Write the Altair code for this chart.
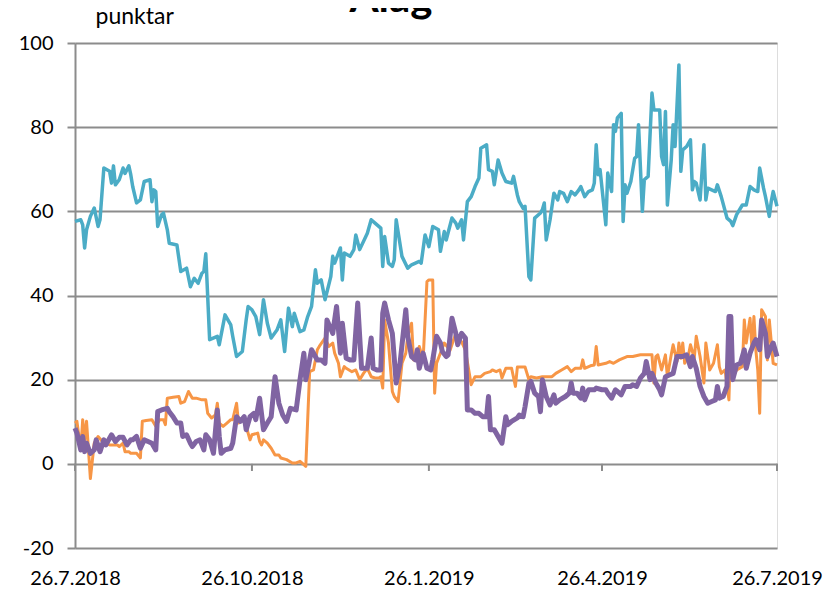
import altair as alt
import pandas as pd

# (days since 26.7.2018, value)
teal = [(0,57.6),(3,58),(4,56.8),(5,51.3),(6,55.6),(8,58.8),(10,60.8),(12,56.4),(13,58),(15,70.3),(18,69.5),(19,66.7),(20,70.8),(21,66.3),(23,67.5),(25,70.3),(26,69),(28,70.8),(29,68.7),(30,65.9),(32,62),(34,62.7),(36,67.1),(39,67.5),(40,62.3),(41,65.1),(42,64.7),(43,56.4),(45,59.2),(46,59.6),(48,55.6),(49,52.4),(53,52),(55,45.7),(58,46.5),(60,42.1),(62,44.1),(64,42.9),(66,45.3),(67,45.7),(68,49.9),(70,29.5),(74,30.3),(75,28.3),(78,35.4),(81,33),(82,30.3),(84,25.5),(87,26.7),(89,34.2),(90,37.4),(92,36.6),(94,35),(96,30.7),(98,39),(100,33.4),(102,29.9),(105,31.8),(107,34.2),(109,26.7),(111,37),(113,32.6),(114,35.8),(117,31.4),(119,31.8),(121,35),(123,37.4),(125,46.1),(126,42.9),(128,43.7),(130,39),(133,44.5),(134,49.3),(135,47.7),(138,51.3),(139,43.7),(140,50.1),(143,49.3),(145,50.9),(146,54.4),(148,50.9),(152,54.8),(154,58),(156,57.2),(159,56),(160,46.9),(161,54),(163,47.7),(165,46.9),(166,48.5),(167,58),(170,49.3),(173,46.5),(175,47.3),(179,48.1),(180,47.7),(182,54.4),(184,51.6),(186,56.4),(189,55.6),(190,50.5),(192,55.2),(193,53.2),(196,58.4),(198,57.2),(199,56),(201,58),(202,53.2),(204,62.3),(206,63.5),(208,65.9),(210,67.9),(211,75),(214,75.8),(215,69.9),(217,69.5),(218,66.3),(220,72.2),(222,69.1),(224,67.1),(227,66.7),(228,68.3),(230,63.9),(231,62.3),(233,60.7),(234,61.2),(236,44.5),(237,43.7),(239,58.4),(242,59.6),(243,60.4),(244,62),(245,53.2),(247,58),(249,64.3),(251,62.7),(252,64.7),(254,64.3),(256,62.3),(258,64.7),(260,63.9),(262,65.1),(263,65.9),(265,63.5),(267,64.7),(269,65.1),(270,66.7),(271,75.8),(272,68.7),(273,69.9),(275,61.2),(276,56.8),(277,69.1),(279,64.7),(280,80.6),(281,79),(282,82.2),(284,83.3),(285,57.6),(286,66.3),(287,64.3),(289,67.1),(291,72.6),(292,73),(293,80.6),(295,60),(296,67.5),(298,68.3),(300,88.1),(301,84.1),(304,84.1),(305,73),(306,71.1),(307,83.7),(308,61.5),(310,72.2),(311,80.6),(312,75.4),(314,94.8),(315,69.5),(316,74.6),(318,75.4),(320,77),(321,65.1),(322,67.1),(323,66.7),(325,62.7),(327,75.8),(328,62.7),(329,65.5),(333,64.7),(334,66.3),(336,63.5),(339,58.4),(341,57.6),(342,56.6),(344,59.2),(347,61.5),(349,61.5),(351,65.9),(353,65.1),(355,64.7),(356,70.3),(358,65.5),(359,63.5),(361,58.8),(362,62.3),(363,64.7),(365,61.2)]

orange = [(0,9.7),(1,10.1),(3,3.3),(4,10.5),(5,5.7),(6,10.1),(7,3.3),(8,-3.5),(10,4.9),(12,6.5),(15,4.9),(18,4.5),(22,4.5),(23,4.1),(25,4.9),(26,2.9),(28,2.9),(29,2.5),(32,2.5),(34,1.4),(35,10.1),(37,10.3),(40,10.5),(42,8.9),(44,10.5),(46,10.5),(47,9.3),(48,15.6),(51,15.8),(54,16),(55,14.4),(57,14.8),(59,17.2),(61,15.6),(63,15.6),(66,15.2),(68,15.2),(69,12),(71,10.9),(73,11.6),(74,14.4),(75,9.7),(77,8.9),(79,9.7),(81,10.5),(82,10.5),(84,14.4),(85,9.7),(87,10.9),(88,10.5),(90,7.3),(91,5.7),(92,6.9),(95,7.3),(96,5.3),(97,4.5),(98,5.7),(100,4.9),(102,3.7),(104,2.1),(106,2.1),(107,1.4),(110,1),(113,0.2),(115,0.2),(117,0.6),(119,-0.2),(120,-0.6),(122,21.9),(124,22.3),(126,27.1),(127,27.9),(130,29.9),(132,27.9),(134,28.7),(135,26.3),(137,23.9),(138,20.7),(140,23.1),(141,22.7),(144,21.9),(146,22.3),(148,20),(150,21.5),(152,22.7),(154,20.7),(156,20.4),(158,20.4),(159,20.7),(160,18),(161,34.2),(163,28.7),(165,17.2),(166,16),(168,14.8),(170,23.9),(172,26.3),(173,30.3),(175,33.4),(176,24.7),(178,25.5),(179,27.9),(181,24.7),(183,43.3),(184,43.7),(186,43.7),(187,16.8),(188,23.9),(192,28.7),(195,27),(198,31),(201,29),(203,27),(206,18.8),(208,20.7),(211,20.7),(213,21.5),(216,21.9),(217,22.3),(219,21.9),(221,22.3),(222,20.4),(224,22.7),(227,22.7),(229,18.4),(230,23),(234,23),(236,20),(237,20.7),(240,20.4),(243,20.7),(245,20.7),(248,20.7),(250,21.5),(253,22.3),(256,23.1),(258,21.9),(260,22.7),(263,22.7),(264,24.7),(265,22.7),(268,23.3),(270,23.5),(271,27.9),(272,23.5),(276,23.9),(278,24.3),(280,23.9),(283,24.7),(287,25.5),(290,25.5),(294,25.9),(298,25.9),(300,25.9),(301,19.2),(302,25.5),(303,25.9),(305,22.3),(307,25.9),(308,20.7),(310,25.9),(311,28.3),(313,24.3),(314,28.7),(315,25.1),(316,28.7),(317,23.9),(319,25.9),(320,28.3),(322,25.1),(323,30.3),(325,25.5),(327,19.2),(328,28.7),(330,22.3),(332,23.9),(334,28.3),(335,23.1),(336,21.5),(338,22.3),(340,15.2),(341,31),(342,20.7),(344,22.3),(347,23.1),(348,34.2),(349,28.7),(351,34.6),(352,27.1),(353,35),(354,27.1),(355,22.3),(356,12),(357,36.6),(359,35),(360,24.7),(361,34.2),(363,23.9),(365,23.5)]

purple = [(0,8.5),(1,7.3),(3,3.3),(4,6.5),(5,2.9),(6,4.9),(8,2.5),(10,3.3),(11,5.7),(13,2.9),(15,5.7),(16,4.5),(19,6.9),(21,5.3),(23,6.3),(25,6.3),(27,4.5),(29,5.7),(30,5.7),(32,6.5),(34,3.7),(36,5.7),(38,5.3),(40,4.9),(42,3.3),(43,12.4),(45,12.8),(48,13.2),(49,12.4),(51,11.2),(53,9.7),(55,9.7),(56,6.5),(58,6.9),(60,4.9),(61,4.1),(63,5.3),(65,5.7),(67,3.3),(68,6.9),(70,5.7),(72,2.5),(74,12.8),(75,6.5),(76,2.5),(78,3.3),(81,3.7),(82,4.9),(84,11.2),(86,10.1),(88,11.2),(89,8.1),(91,11.2),(93,12),(94,10.5),(96,15.6),(98,8.1),(100,9.7),(102,11.2),(104,20.7),(106,14.4),(108,11.6),(110,10.1),(112,13.2),(115,12.8),(117,20),(119,26.3),(120,20),(123,27.1),(126,24.7),(128,24.7),(130,23.9),(131,34.2),(134,31),(136,37.4),(138,26.3),(139,33.4),(141,25.1),(143,24.7),(145,24.7),(147,38.2),(149,22.7),(152,22.7),(154,29.9),(155,22.7),(157,22.3),(159,22.3),(160,35.8),(161,38.2),(163,34.2),(165,31),(167,19.2),(169,23.9),(172,36.6),(173,30.3),(175,25.5),(177,24.7),(178,27.1),(179,22.7),(181,26.3),(183,22.7),(185,22.3),(186,24.7),(188,30.3),(190,28.7),(191,26.7),(193,25.5),(194,25.9),(196,34.6),(198,31),(199,28.3),(201,31),(203,29.9),(204,12.8),(206,12.8),(208,12),(210,12),(212,11.2),(214,11.2),(215,16),(216,8.1),(218,8.1),(220,6.5),(222,4.9),(224,11.2),(225,9.3),(227,10.1),(230,10.9),(231,11.6),(233,11.2),(234,13.6),(236,19.2),(237,19.6),(239,16.8),(241,16),(242,12.4),(243,20),(245,16),(247,14),(249,16.4),(250,14.4),(252,15.2),(255,16),(257,16.8),(258,19.2),(259,16.8),(261,16.8),(263,15.6),(264,18),(265,15.2),(267,17.6),(270,17.6),(271,18),(274,17.6),(276,17.6),(277,16.8),(279,15.6),(281,17.6),(282,17.2),(284,16.4),(286,18.4),(289,18.4),(290,18.8),(292,18.4),(294,20.4),(296,21.5),(297,24.3),(299,20),(300,21.5),(302,19.2),(304,17.6),(305,16.4),(307,20.7),(309,21.1),(311,21.5),(313,25.5),(316,25.5),(318,25.9),(320,23.1),(321,25.5),(323,22.7),(325,18.4),(327,16),(329,14.4),(331,14.8),(333,15.2),(334,18.4),(335,15.6),(337,16),(339,18.4),(340,35),(341,35),(342,20),(344,23.5),(346,23.9),(348,27.1),(349,22.7),(351,26.3),(353,28.7),(354,29.5),(356,27.1),(357,34.2),(359,31),(360,25.5),(362,27.9),(363,28.7),(365,25.5)]

tick_dates = [(2018, 7, 26), (2018, 10, 26), (2019, 1, 26), (2019, 4, 26), (2019, 7, 26)]
y_ticks = [-20, 0, 20, 40, 60, 80, 100]
tick_low = -1.7
title_text = ["Álag"]

START = pd.Timestamp("2018-07-26")


def frame(pairs):
    return pd.DataFrame({
        "date": [(START + pd.Timedelta(days=d)).strftime("%Y-%m-%dT00:00:00") for d, _ in pairs],
        "value": [v for _, v in pairs],
    })


GRID = "#8c8c8c"
FONT = "Lato"

dt_ticks = [alt.DateTime(year=y, month=m, date=d) for y, m, d in tick_dates]
x_scale = alt.Scale(domain=[dt_ticks[0], dt_ticks[-1]])
y_scale = alt.Scale(domain=[-20, 100], nice=False)

x_axis = alt.Axis(values=dt_ticks, format="%-d.%-m.%Y", labelFont=FONT, labelFontSize=20,
                  labelColor="black", labelPadding=20, ticks=False, domain=False, grid=False,
                  title=None, labelOverlap=False, labelFlush=False)
y_axis = alt.Axis(values=y_ticks, tickSize=8, tickColor=GRID, tickWidth=2, domainColor=GRID,
                  domainWidth=2, gridColor=GRID, gridWidth=2, gridOpacity=1, labelFontSize=20,
                  labelFont=FONT, labelColor="black", labelPadding=14,
                  labelExpr="'' + datum.value", title="punktar",
                  titleAngle=0, titleAlign="left", titleBaseline="alphabetic", titleX=20, titleY=-20,
                  titleFont=FONT, titleFontSize=23, titleFontWeight="normal", titleColor="black")


def line(pairs, color, width):
    return alt.Chart(frame(pairs)).mark_line(color=color, strokeWidth=width, strokeJoin="round").encode(
        x=alt.X("date:T", scale=x_scale, axis=x_axis),
        y=alt.Y("value:Q", scale=y_scale, axis=y_axis),
    )


tick_df = pd.DataFrame({
    "date": [f"{y:04d}-{m:02d}-{d:02d}T00:00:00" for y, m, d in tick_dates],
    "zero": [0] * len(tick_dates),
    "low": [tick_low] * len(tick_dates),
})
ticks = alt.Chart(tick_df).mark_rule(color=GRID, strokeWidth=2).encode(
    x=alt.X("date:T", scale=x_scale, axis=x_axis),
    y=alt.Y("zero:Q", scale=y_scale, axis=y_axis),
    y2="low:Q",
)

title = alt.Chart(pd.DataFrame({"t": title_text})).mark_text(
    font=FONT, fontSize=42, fontWeight="bold", color="black", align="center",
    baseline="alphabetic",
).encode(text="t:N", x=alt.value(316), y=alt.value(-31))

chart = alt.layer(
    ticks,
    line(teal, "#4BACC6", 3.5),
    line(orange, "#F79646", 3),
    line(purple, "#8064A2", 5),
    title,
).properties(
    width=702, height=505,
    autosize=alt.AutoSizeParams(type="none"),
    padding={"left": 67, "top": 35, "right": 46, "bottom": 44},
).configure_view(stroke=None).configure(background="white")

chart.save("out.html", embed_options={"renderer": "svg", "actions": False})
